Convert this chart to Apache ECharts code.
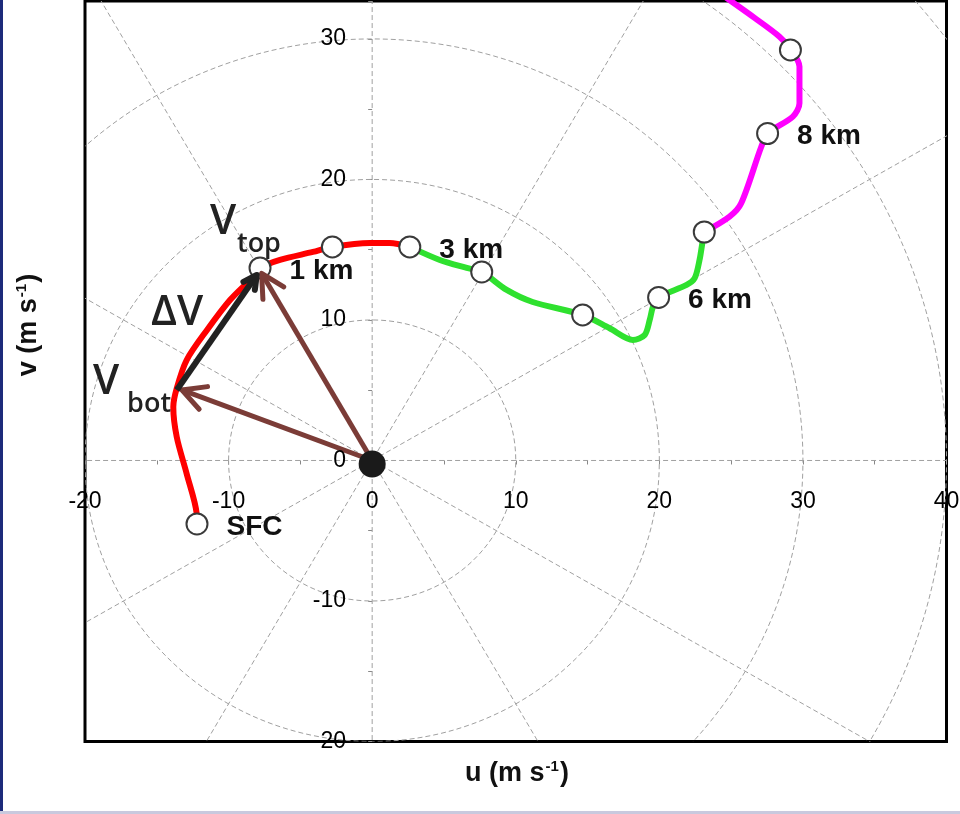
<!DOCTYPE html>
<html>
<head>
<meta charset="utf-8">
<title>hodograph</title>
<script src="https://cdn.jsdelivr.net/npm/echarts@6/dist/echarts.min.js"></script>
<style>
    html, body {margin: 0; padding: 0; background: #fff;}
    #box1 {width: 960px; height: 814px;}
</style>
</head>
<body>
<div id="box1"></div>
<script>
//tick labels, drawn on the zero lines
var uTicks = [-20, -10, 0, 10, 20, 30, 40];
var vTicks = [-20, -10, 0, 10, 20, 30];

//grid rings and spokes of the hodograph
var ringRadii = [10, 20, 30, 40, 50];
var spokeAngles = [0, 30, 60, 90, 120, 150];

//wind at each height (u, v), m/s
var heightNames = ['SFC', '1 km', '', '3 km', '', '', '6 km', '', '8 km', ''];
var heightU = [-12.2, -7.81, -2.77, 2.62, 7.63, 14.66, 19.95, 23.13, 27.54, 29.13];
var heightV = [-4.52, 13.7, 15.2, 15.2, 13.42, 10.36, 11.6, 16.26, 23.27, 29.22];

//hodograph trace, 0-3 km / 3-7 km / above 7 km
var redTrace = [[-12.2, -4.52], [-12.22, -3.79], [-12.92, -0.94], [-13.61, 1.67], [-13.85, 3.81], [-13.61, 5.14],
    [-12.92, 7.15], [-11.5, 9.29], [-9.9, 11.42], [-8.3, 13.06], [-7.81, 13.7], [-6.42, 14.27], [-4.13, 14.84],
    [-2.77, 15.2], [-0.16, 15.48], [1.22, 15.48], [2.62, 15.2]];
var greenTrace = [[2.62, 15.2], [4.71, 14.27], [6.59, 13.7], [7.63, 13.42], [9.37, 12.14], [11.18, 11.28],
    [14.66, 10.36], [16.54, 9.41], [18.16, 8.58], [18.98, 8.93], [19.33, 10.0], [19.56, 10.95], [19.95, 11.6],
    [21.9, 12.49], [22.46, 12.97], [22.8, 14.27], [23.01, 15.57], [23.13, 16.26]];
var magentaTrace = [[23.13, 16.26], [24.89, 17.35], [25.7, 18.3], [27.1, 22.33], [27.56, 23.29], [29.3, 24.47],
    [29.76, 25.42], [29.76, 28.03], [29.18, 29.22], [28.37, 30.16], [26.63, 31.5], [24.89, 32.77], [24.3, 33.2]];

//shear vectors
var vBot = [-13.26, 5.02];
var vTop = [-7.70, 13.32];
var shearFrom = [-13.61, 5.02];
var shearTo = [-8.04, 13.2];

//annotation text anchors (u, v)
var bigNames = ['V', '\u0394V', 'V'];
var bigAt = [[-11.29, 16.94], [-15.4, 10.46], [-19.44, 5.59]];
var subNames = ['top', 'bot'];
var subAt = [[-9.42, 15.4], [-17.07, 4.0]];

var tickFont = "'Liberation Sans', Arial, sans-serif";
var boldFont = "'Liberation Sans', Arial, sans-serif";
var annFont = "'Open Sans', 'Noto Sans', sans-serif";
var gridGray = '#a0a0a0';

function ringItem(params, api) {
    var c = api.coord([0, 0]);
    var s = api.size([api.value(0), api.value(0)]);
    return {
        type: 'ellipse',
        shape: {cx: c[0], cy: c[1], rx: s[0], ry: s[1]},
        style: {fill: null, stroke: gridGray, lineWidth: 1, lineDash: [5, 3]}
    };
}

function spokeItem(params, api) {
    var a = api.value(0) * Math.PI / 180, R = 70;
    var p0 = api.coord([-R * Math.cos(a), -R * Math.sin(a)]);
    var p1 = api.coord([R * Math.cos(a), R * Math.sin(a)]);
    return {
        type: 'line',
        shape: {x1: p0[0], y1: p0[1], x2: p1[0], y2: p1[1]},
        style: {stroke: gridGray, lineWidth: 1, lineDash: [5, 3]}
    };
}

function arrowRenderer(color, width, head) {
    return function (params, api) {
        var p0 = api.coord([api.value(0), api.value(1)]);
        var p1 = api.coord([api.value(2), api.value(3)]);
        var ang = Math.atan2(p1[1] - p0[1], p1[0] - p0[0]);
        var spread = Math.PI / 6.5;
        var a = [p1[0] - head * Math.cos(ang - spread), p1[1] - head * Math.sin(ang - spread)];
        var b = [p1[0] - head * Math.cos(ang + spread), p1[1] - head * Math.sin(ang + spread)];
        return {
            type: 'group',
            children: [
                {type: 'line', shape: {x1: p0[0], y1: p0[1], x2: p1[0], y2: p1[1]},
                    style: {stroke: color, lineWidth: width, lineCap: 'butt'}},
                {type: 'polyline', shape: {points: [a, p1, b]},
                    style: {stroke: color, fill: null, lineWidth: width, lineJoin: 'round', lineCap: 'round'}}
            ]
        };
    };
}

//text-only series: invisible white dot, label carries the text
function textSeries(name, data, label) {
    return {
        name: name, type: 'scatter', z: 6, symbolSize: 0.1, clip: false, silent: true,
        itemStyle: {color: '#fff', opacity: 1},
        label: label,
        data: data
    };
}

var box1_chart = echarts.init(document.getElementById('box1'));

var heightData = heightU.map(function (u, i) {
    return {name: heightNames[i], value: [u, heightV[i]]};
});
var bigData = bigAt.map(function (p, i) {
    return {name: bigNames[i], value: p};
});
var subData = subAt.map(function (p, i) {
    return {name: subNames[i], value: p};
});
var uTickData = uTicks.map(function (t) {
    return {name: String(t), value: [t, 0]};
});
var vTickData = vTicks.map(function (t) {
    return {name: String(t), value: [0, t]};
});

function nameFmt(p) {
    return p.name;
}

var option = {
    animation: false,
    backgroundColor: '#fff',
    grid: {
        left: 85,
        right: 13.5,
        top: 1,
        bottom: 72.5,
        outerBoundsMode: 'none',
        containLabel: false,
        show: true,
        borderColor: '#000',
        borderWidth: 3,
        backgroundColor: '#fff'
    },
    xAxis: {
        type: 'value',
        min: -20,
        max: 40,
        interval: 5,
        axisLine: {show: false, onZero: true},
        axisTick: {show: true, length: 4, lineStyle: {color: '#888'}},
        axisLabel: {show: false},
        splitLine: {show: false}
    },
    yAxis: {
        type: 'value',
        min: -20,
        max: 32.7,
        interval: 5,
        axisLine: {show: false, onZero: true},
        axisTick: {show: true, length: 4, lineStyle: {color: '#888'}},
        axisLabel: {show: false},
        splitLine: {show: false}
    },
    graphic: [
        {type: 'rect', left: 0, top: 0, z: 100, shape: {width: 3, height: 814}, style: {fill: '#1c2a7a'}},
        {type: 'rect', left: 0, top: 811, z: 100, shape: {width: 960, height: 3}, style: {fill: '#c9c9de'}},
        {
            type: 'text', x: 517, y: 774, z: 100,
            style: {
                text: '{t|u (m s}{s|-1}{t|)}',
                align: 'center', verticalAlign: 'middle',
                rich: {
                    t: {fontFamily: boldFont, fontWeight: 'bold', fontSize: 27, fill: '#111', lineHeight: 30},
                    s: {fontFamily: boldFont, fontWeight: 'bold', fontSize: 15, fill: '#111', lineHeight: 30, verticalAlign: 'top', padding: [0, 1, 10, 1]}
                }
            }
        },
        {
            type: 'text', x: 29, y: 325, rotation: Math.PI / 2, z: 100,
            style: {
                text: '{t|v (m s}{s|-1}{t|)}',
                align: 'center', verticalAlign: 'middle',
                rich: {
                    t: {fontFamily: boldFont, fontWeight: 'bold', fontSize: 27, fill: '#111', lineHeight: 30},
                    s: {fontFamily: boldFont, fontWeight: 'bold', fontSize: 15, fill: '#111', lineHeight: 30, verticalAlign: 'top', padding: [0, 1, 10, 1]}
                }
            }
        }
    ],
    series: [
        {
            name: 'rings',
            type: 'custom',
            clip: true,
            z: 1,
            silent: true,
            renderItem: ringItem,
            data: ringRadii.map(function (r) { return [r]; })
        },
        {
            name: 'spokes',
            type: 'custom',
            clip: true,
            z: 1,
            silent: true,
            renderItem: spokeItem,
            data: spokeAngles.map(function (a) { return [a]; })
        },
        {
            name: '0-3 km', type: 'line', z: 2, smooth: 0.3, symbol: 'none',
            lineStyle: {color: '#ff0000', width: 6}, data: redTrace
        },
        {
            name: '3-7 km', type: 'line', z: 2, smooth: 0.3, symbol: 'none',
            lineStyle: {color: '#2fe12f', width: 6}, data: greenTrace
        },
        {
            name: '7+ km', type: 'line', z: 2, smooth: 0.3, symbol: 'none',
            lineStyle: {color: '#ff00ff', width: 6}, data: magentaTrace
        },
        {
            name: 'heights', type: 'scatter', z: 3, symbolSize: 21,
            itemStyle: {color: '#fff', borderColor: '#3a3a3a', borderWidth: 2, opacity: 1},
            label: {
                show: true, position: 'right', distance: 18, offset: [0, 3],
                fontFamily: boldFont, fontWeight: 'bold', fontSize: 28, color: '#111',
                formatter: nameFmt
            },
            data: heightData
        },
        {
            name: 'vectors', type: 'custom', z: 4,
            renderItem: arrowRenderer('#7b3c37', 5, 26),
            data: [[0, 0, vBot[0], vBot[1]], [0, 0, vTop[0], vTop[1]]]
        },
        {
            name: 'shear', type: 'custom', z: 4,
            renderItem: arrowRenderer('#222', 6, 15),
            data: [[shearFrom[0], shearFrom[1], shearTo[0], shearTo[1]]]
        },
        {
            name: 'origin', type: 'scatter', z: 5, symbolSize: 27,
            itemStyle: {color: '#1a1a1a', opacity: 1},
            data: [[0, -0.25]]
        },
        textSeries('uTicks', uTickData, {
            show: true, position: 'bottom', distance: 30,
            fontFamily: tickFont, fontSize: 23, color: '#000', formatter: nameFmt
        }),
        textSeries('vTicks', vTickData, {
            show: true, position: 'left', distance: 26,
            fontFamily: tickFont, fontSize: 23, color: '#000', formatter: nameFmt
        }),
        textSeries('bigText', bigData, {
            show: true, position: 'right', distance: 0,
            fontFamily: annFont, fontWeight: 600, fontSize: 42, color: '#222', formatter: nameFmt
        }),
        textSeries('subText', subData, {
            show: true, position: 'right', distance: 0,
            fontFamily: annFont, fontWeight: 600, fontSize: 27, color: '#222', formatter: nameFmt
        })
    ]
};
box1_chart.setOption(option);
</script>
</body>
</html>
